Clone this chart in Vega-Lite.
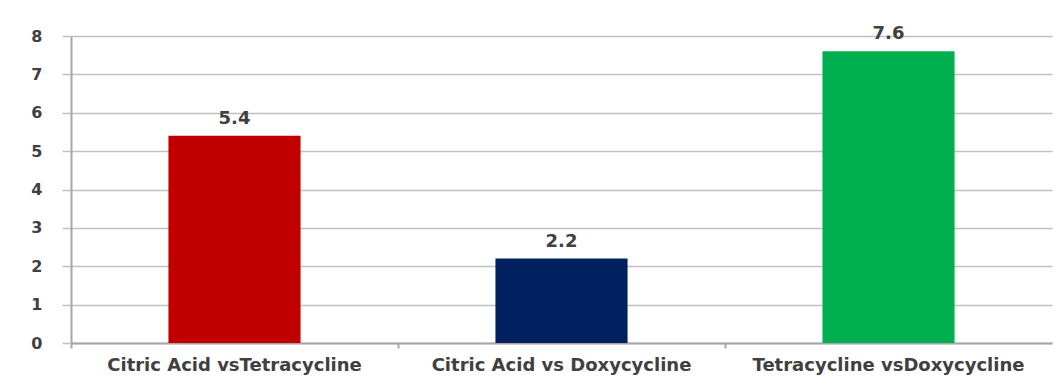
{
  "$schema": "https://vega.github.io/schema/vega-lite/v6.json",
  "autosize": "none",
  "width": 981,
  "height": 307,
  "padding": {"left": 71, "top": 36, "right": 8, "bottom": 44},
  "background": "#ffffff",
  "config": {
    "view": {"stroke": null},
    "font": "DejaVu Sans",
    "axis": {
      "labelFont": "DejaVu Sans",
      "labelColor": "#404040",
      "labelFontWeight": "bold",
      "labelLimit": 0,
      "title": null
    }
  },
  "data": {
    "values": [
      {"comparison": "Citric Acid vsTetracycline", "value": 5.4, "color": "#c00000"},
      {"comparison": "Citric Acid vs Doxycycline", "value": 2.2, "color": "#002060"},
      {"comparison": "Tetracycline vsDoxycycline", "value": 7.6, "color": "#00b050"}
    ]
  },
  "encoding": {
    "x": {
      "field": "comparison",
      "type": "nominal",
      "sort": null,
      "scale": {"paddingInner": 0, "paddingOuter": 0},
      "axis": {
        "labelAngle": 0,
        "bandPosition": 0,
        "labelFontSize": 18,
        "domainColor": "#a6a6a6",
        "domainWidth": 2,
        "tickColor": "#a6a6a6",
        "tickWidth": 2,
        "tickSize": 5,
        "labelPadding": 8,
        "grid": false
      }
    },
    "y": {
      "field": "value",
      "type": "quantitative",
      "scale": {"domain": [0, 8], "nice": false},
      "axis": {
        "values": [0, 1, 2, 3, 4, 5, 6, 7, 8],
        "labelFontSize": 16,
        "grid": true,
        "gridColor": "#c0c0c0",
        "gridWidth": 1.5,
        "domainColor": "#a6a6a6",
        "domainWidth": 2,
        "tickColor": "#c0c0c0",
        "tickWidth": 1.5,
        "tickSize": 9,
        "labelPadding": 20
      }
    }
  },
  "layer": [
    {
      "mark": {"type": "bar", "width": {"band": 0.404}},
      "encoding": {
        "color": {"field": "color", "type": "nominal", "scale": null, "legend": null}
      }
    },
    {
      "mark": {"type": "text", "baseline": "bottom", "dy": -8, "fontSize": 18, "fontWeight": "bold", "color": "#404040", "font": "DejaVu Sans"},
      "encoding": {
        "text": {"field": "value", "type": "quantitative", "format": ".1f"}
      }
    }
  ]
}
